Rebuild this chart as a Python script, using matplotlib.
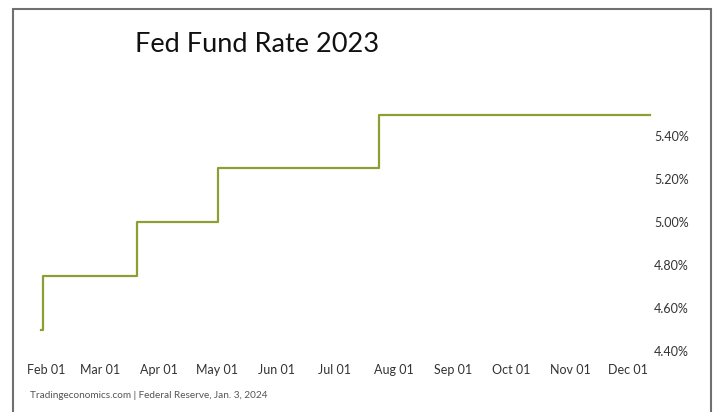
import matplotlib
matplotlib.use("Agg")
import matplotlib.pyplot as plt
import matplotlib.dates as mdates
from matplotlib.patches import Rectangle
from matplotlib.ticker import FuncFormatter
import matplotlib.transforms as mtransforms
import pandas as pd

# Fed funds target rate (upper bound), step changes through 2023
change_dates = ["2023-02-01", "2023-02-02", "2023-03-23", "2023-05-04", "2023-07-27", "2023-12-15"]
rates = [4.50, 4.75, 5.00, 5.25, 5.50, 5.50]

tick_dates = ["2023-02-01", "2023-03-01", "2023-04-01", "2023-05-01", "2023-06-01", "2023-07-01",
              "2023-08-01", "2023-09-01", "2023-10-01", "2023-11-01", "2023-12-01"]
y_ticks = [4.40, 4.60, 4.80, 5.00, 5.20, 5.40]

title = "Fed Fund Rate 2023"
source = "Tradingeconomics.com | Federal Reserve, Jan. 3, 2024"

dates = pd.to_datetime(change_dates)
ticks = pd.to_datetime(tick_dates)

plt.rcParams["font.family"] = ["Lato", "DejaVu Sans"]

fig = plt.figure(figsize=(7.17, 4.12), dpi=100)
fig.patch.set_facecolor("white")

# outer frame
fig.patches.append(Rectangle((13 / 717, -0.05), (711 - 13) / 717, 1.05 - 9 / 412,
                             transform=fig.transFigure, fill=False,
                             edgecolor="#707070", linewidth=1.5))

ax = fig.add_axes([41 / 717, 1 - 351 / 412, (650 - 41) / 717, (351 - 93) / 412])
ax.step(dates, rates, where="post", color="#8f9e34", linewidth=1.6, clip_on=False)

ax.set_xlim(dates[0], dates[-1])
ax.set_ylim(4.40, 5.60)

for s in ax.spines.values():
    s.set_visible(False)

ax.set_xticks(ticks)
ax.xaxis.set_major_formatter(mdates.DateFormatter("%b %d"))
ax.set_yticks(y_ticks)
ax.yaxis.set_major_formatter(FuncFormatter(lambda v, p: f"{v:.2f}%"))
ax.yaxis.tick_right()
ax.tick_params(axis="both", length=0, labelsize=9, colors="#333333")
ax.tick_params(axis="x", pad=9)
ax.tick_params(axis="y", pad=3)

shift = mtransforms.ScaledTranslation(5 / 100, 0, fig.dpi_scale_trans)
for lbl in ax.get_xticklabels():
    lbl.set_transform(lbl.get_transform() + shift)

fig.text(257 / 717, 1 - 45 / 412, title, ha="center", va="center",
         fontsize=19.5, color="#111111")
fig.text(30 / 717, 1 - 396 / 412, source, ha="left", va="center",
         fontsize=7.2, color="#555555")

fig.savefig("out.png", dpi=100, facecolor="white")
